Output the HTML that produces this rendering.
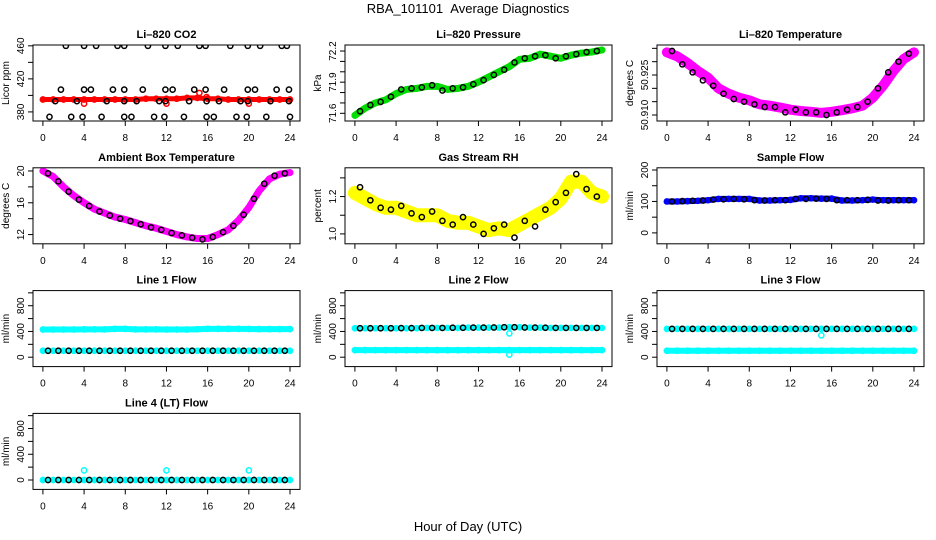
<!DOCTYPE html>
<html><head><meta charset="utf-8"><style>
html,body{margin:0;padding:0;background:#fff;}
svg{display:block;font-family:"Liberation Sans",Arial,sans-serif;}
</style></head><body>
<svg id="chart" width="936" height="540" viewBox="0 0 936 540" xmlns="http://www.w3.org/2000/svg">
<text x="468" y="13" text-anchor="middle" font-size="13">RBA_101101 &#160;Average Diagnostics</text>
<text x="468" y="531" text-anchor="middle" font-size="13">Hour of Day (UTC)</text>
</svg>
<script>
const xTicks = [0,4,8,12,16,20,24];
const hours = [0,1,2,3,4,5,6,7,8,9,10,11,12,13,14,15,16,17,18,19,20,21,22,23,24];
const halfHours = [0.5,1.5,2.5,3.5,4.5,5.5,6.5,7.5,8.5,9.5,10.5,11.5,12.5,13.5,14.5,15.5,16.5,17.5,18.5,19.5,20.5,21.5,22.5,23.5];

// CO2
const co2Red = [395,395,395,395,395,395,395,395,395,395,396,396,396,396,397,397,396,396,395,395,395,395,395,395,395];
const co2RedOutT = [4.0,12.0,15.2,15.9,20.0];
const co2RedOutV = [390,390,403,398,390];
const co2BlkT = [2.23,4.0,5.17,7.25,7.9,10.2,11.9,13.1,15.2,15.8,18.2,19.9,21.1,23.2,23.7,
 1.75,4.0,4.66,6.8,7.9,9.7,11.9,12.6,14.7,15.8,17.6,19.9,20.6,22.7,23.9,
 1.2,3.3,6.2,7.9,9.1,11.3,11.9,14.2,15.9,17.1,19.2,19.9,22.1,23.9,
 0.64,2.75,3.85,5.7,7.9,8.6,10.8,11.8,13.7,15.9,16.6,18.8,19.8,21.7,24.0];
const co2BlkV = [460,460,460,460,460,460,460,460,460,460,460,460,460,460,460,
 407,407,407,407,407,407,407,407,407,407,407,407,407,407,407,
 393,393,393,393,393,393,393,393,393,393,393,393,393,393,
 374,374,374,374,374,374,374,374,374,374,374,374,374,374,374];
// Pressure
const presGreen = [71.58,71.65,71.70,71.73,71.79,71.83,71.84,71.86,71.86,71.83,71.84,71.86,71.90,71.95,72.00,72.05,72.12,72.13,72.17,72.15,72.13,72.16,72.18,72.19,72.21];
const presBlk = [71.62,71.68,71.71,71.76,71.83,71.84,71.85,71.87,71.82,71.84,71.85,71.88,71.92,71.97,72.02,72.09,72.13,72.15,72.16,72.13,72.15,72.17,72.19,72.20];
// Li-820 temperature
const tempMag = [50.9335,50.9320,50.9295,50.9265,50.9240,50.9200,50.9180,50.9165,50.9155,50.9140,50.9135,50.9128,50.9120,50.9115,50.9112,50.9108,50.9112,50.9118,50.9125,50.9135,50.9165,50.9210,50.9265,50.9310,50.9335];
const tempBlk = [50.934,50.929,50.926,50.923,50.921,50.918,50.916,50.915,50.914,50.913,50.913,50.911,50.912,50.911,50.911,50.910,50.911,50.912,50.913,50.915,50.920,50.926,50.930,50.933];
// Ambient box temperature
const ambMag = [20.0,19.3,18.0,16.9,16.0,15.2,14.7,14.2,13.9,13.5,13.1,12.8,12.4,12.0,11.7,11.5,11.5,12.0,12.6,13.8,15.4,17.5,19.0,19.6,19.8];
const ambBlk = [19.7,18.7,17.4,16.4,15.6,14.9,14.4,14.0,13.7,13.3,12.9,12.6,12.2,11.9,11.6,11.4,11.7,12.3,13.1,14.5,16.5,18.4,19.4,19.7];
// Gas stream RH
const rhYel = [1.22,1.19,1.16,1.14,1.14,1.12,1.10,1.10,1.10,1.07,1.06,1.06,1.04,1.02,1.03,1.02,1.05,1.08,1.11,1.14,1.19,1.28,1.28,1.22,1.20];
const rhBlk = [1.25,1.18,1.14,1.13,1.15,1.11,1.09,1.12,1.07,1.05,1.09,1.05,1.00,1.03,1.05,0.98,1.07,1.04,1.13,1.17,1.22,1.32,1.24,1.20];
// Sample flow
const sfBlue = [100,100,101,102,104,108,108,108,108,103,103,104,105,110,110,109,109,103,103,104,106,104,104,104,104];
const sfBlk = [100,101,102,103,106,107,108,107,104,103,104,104,108,108,109,108,104,104,104,105,103,103,104,104];
// Line flows
const l1CyanHi = [430,430,430,430,432,432,432,440,440,432,432,432,430,430,430,435,440,440,440,440,438,436,436,436,436];
const l1CyanLo = [100,100,100,100,100,100,100,100,100,100,100,100,100,100,100,100,100,100,100,100,100,100,100,100,100];
const l1Blk = [100,100,100,100,100,100,100,100,100,100,100,100,100,100,100,100,100,100,100,100,100,100,100,100];
const l2CyanHi = [450,450,450,450,450,450,450,455,455,455,455,460,460,460,460,465,465,460,460,455,455,455,455,455,455];
const l2CyanLo = [110,110,110,110,110,110,110,110,110,110,110,110,110,110,110,110,110,110,110,110,110,110,110,110,110];
const l2Blk = [450,450,450,450,452,452,455,455,455,458,458,460,460,462,465,465,462,460,458,455,455,455,455,455];
const l3CyanHi = [440,440,440,440,440,440,440,440,440,440,440,440,440,440,440,440,440,440,440,440,440,440,440,440,440];
const l3CyanLo = [100,100,100,100,100,100,100,100,100,100,100,100,100,100,100,100,100,100,100,100,100,100,100,100,100];
const l3Blk = [440,440,440,440,440,440,440,440,440,440,440,440,440,440,440,440,440,440,440,440,440,440,440,440];
const l4Cyan = [0,0,0,0,0,0,0,0,0,0,0,0,0,0,0,0,0,0,0,0,0,0,0,0,0];
const l4CyanOutT = [4,12,20];
const l4CyanOutV = [150,150,150];
const l4Blk = [0,0,0,0,0,0,0,0,0,0,0,0,0,0,0,0,0,0,0,0,0,0,0,0];

const flowTicks = [0,200,400,600,800,1000];
const flowLabels = ['0','','400','','800',''];

const panels = [
 {name:'co2',title:'Li\u2013820 CO2',ylab:'Licor ppm',col:0,row:0,ymin:369,ymax:461,ticks:[380,400,420,440,460],labels:['380','','420','','460'],
  series:[{t:hours,v:co2Red,c:'#ff0000',band:5},{t:co2RedOutT,v:co2RedOutV,c:'#ff0000'},{t:co2BlkT,v:co2BlkV,c:'#000'}]},
 {name:'pressure',title:'Li\u2013820 Pressure',ylab:'kPa',col:1,row:0,ymin:71.526,ymax:72.258,ticks:[71.6,71.7,71.8,71.9,72.0,72.1,72.2],labels:['71.6','','','71.9','','','72.2'],
  series:[{t:hours,v:presGreen,c:'#00dd00',band:7},{t:halfHours,v:presBlk,c:'#000'}]},
 {name:'li820-temperature',title:'Li\u2013820 Temperature',ylab:'degrees C',col:2,row:0,ymin:50.90775,ymax:50.93625,ticks:[50.910,50.915,50.920,50.925,50.930,50.935],labels:['50.910','','','50.925','',''],
  series:[{t:hours,v:tempMag,c:'#ff00ff',band:10},{t:halfHours,v:tempBlk,c:'#000'}]},
 {name:'ambient-temperature',title:'Ambient Box Temperature',ylab:'degrees C',col:0,row:1,ymin:10.84,ymax:20.4,ticks:[12,14,16,18,20],labels:['12','','16','','20'],
  series:[{t:hours,v:ambMag,c:'#ff00ff',band:7},{t:halfHours,v:ambBlk,c:'#000'}]},
 {name:'gas-stream-rh',title:'Gas Stream RH',ylab:'percent',col:1,row:1,ymin:0.947,ymax:1.354,ticks:[1.0,1.1,1.2,1.3],labels:['1.0','','1.2',''],
  series:[{t:hours,v:rhYel,c:'#ffff00',band:14},{t:halfHours,v:rhBlk,c:'#000'}]},
 {name:'sample-flow',title:'Sample Flow',ylab:'ml/min',col:2,row:1,ymin:-34.7,ymax:207,ticks:[0,50,100,150,200],labels:['0','','100','','200'],
  series:[{t:hours,v:sfBlue,c:'#0000ff',band:6},{t:halfHours,v:sfBlk,c:'#000'}]},
 {name:'line1-flow',title:'Line 1 Flow',ylab:'ml/min',col:0,row:2,ymin:-146,ymax:1035,ticks:flowTicks,labels:flowLabels,
  series:[{t:hours,v:l1CyanHi,c:'#00ffff',band:6},{t:hours,v:l1CyanLo,c:'#00ffff',band:5},{t:halfHours,v:l1Blk,c:'#000'}]},
 {name:'line2-flow',title:'Line 2 Flow',ylab:'ml/min',col:1,row:2,ymin:-146,ymax:1035,ticks:flowTicks,labels:flowLabels,
  series:[{t:hours,v:l2CyanHi,c:'#00ffff',band:5},{t:hours,v:l2CyanLo,c:'#00ffff',band:6},{t:[15,15],v:[370,40],c:'#00ffff'},{t:halfHours,v:l2Blk,c:'#000'}]},
 {name:'line3-flow',title:'Line 3 Flow',ylab:'ml/min',col:2,row:2,ymin:-146,ymax:1035,ticks:flowTicks,labels:flowLabels,
  series:[{t:hours,v:l3CyanHi,c:'#00ffff',band:5},{t:hours,v:l3CyanLo,c:'#00ffff',band:6},{t:[15],v:[340],c:'#00ffff'},{t:halfHours,v:l3Blk,c:'#000'}]},
 {name:'line4-flow',title:'Line 4 (LT) Flow',ylab:'ml/min',col:0,row:3,ymin:-146,ymax:1035,ticks:flowTicks,labels:flowLabels,
  series:[{t:hours,v:l4Cyan,c:'#00ffff',band:5},{t:l4CyanOutT,v:l4CyanOutV,c:'#00ffff'},{t:halfHours,v:l4Blk,c:'#000'}]}
];

const NS = 'http://www.w3.org/2000/svg';
const svg = document.getElementById('chart');
function mk(tag, attrs, parent){
  const e = document.createElementNS(NS, tag);
  for (const k in attrs) e.setAttribute(k, attrs[k]);
  parent.appendChild(e);
  return e;
}

panels.forEach(p => {
  const left = 33 + 312*p.col, right = 300 + 312*p.col;
  const top = 45 + 122.8*p.row, bottom = top + 76;
  const xS = t => (left+9.9) + t*((right-10)-(left+9.9))/24;
  const yS = v => bottom - (v - p.ymin)/(p.ymax - p.ymin)*(bottom-top);
  const g = mk('g', {}, svg);
  
  

  const clip = mk('clipPath', {id:'clip-'+p.name}, g);
  mk('rect', {x:left, y:top, width:right-left, height:bottom-top}, clip);
  const plot = mk('g', {'clip-path':'url(#clip-'+p.name+')'}, g);
  
  

  p.series.forEach((s, si) => {
    if (s.band) {
      const pl = mk('polyline', {points: s.t.map((t,i)=>xS(t)+','+yS(s.v[i])).join(' '), fill:'none', stroke:s.c, 'stroke-width':s.band, 'stroke-linejoin':'round', 'stroke-linecap':'round'}, plot);
      
      
    }
    s.t.forEach((t, i) => {
      const c = mk('circle', {cx:xS(t), cy:yS(s.v[i]), r:2.6, fill:'none', stroke:s.c, 'stroke-width':1.5}, plot);
      
      
    });
  });

  const box = mk('rect', {x:left, y:top, width:right-left, height:bottom-top, fill:'none', stroke:'#000', 'stroke-width':1}, g);
  
  

  const title = mk('text', {x:(left+right)/2, y:top-7, 'text-anchor':'middle', 'font-size':11, 'font-weight':'bold'}, g);
  title.textContent = p.title;
  
  

  xTicks.forEach(t => {
    mk('line', {x1:xS(t), x2:xS(t), y1:bottom, y2:bottom+5, stroke:'#000'}, g);
    const tl = mk('text', {x:xS(t), y:bottom+20, 'text-anchor':'middle', 'font-size':10}, g);
    tl.textContent = String(t);
    
    
  });

  p.ticks.forEach((v, i) => {
    const y = yS(v);
    mk('line', {x1:left-5, x2:left, y1:y, y2:y, stroke:'#000'}, g);
    if (p.labels[i]) {
      const yl = mk('text', {x:left-9, y:y, 'text-anchor':'middle', 'font-size':10, transform:'rotate(-90 '+(left-9)+' '+y+')'}, g);
      yl.textContent = p.labels[i];
      
      
    }
  });

  const yt = (top+bottom)/2;
  const ylab = mk('text', {x:left-24, y:yt, 'text-anchor':'middle', 'font-size':10, transform:'rotate(-90 '+(left-24)+' '+yt+')'}, g);
  ylab.textContent = p.ylab;
  
  
});
</script>
</body></html>
